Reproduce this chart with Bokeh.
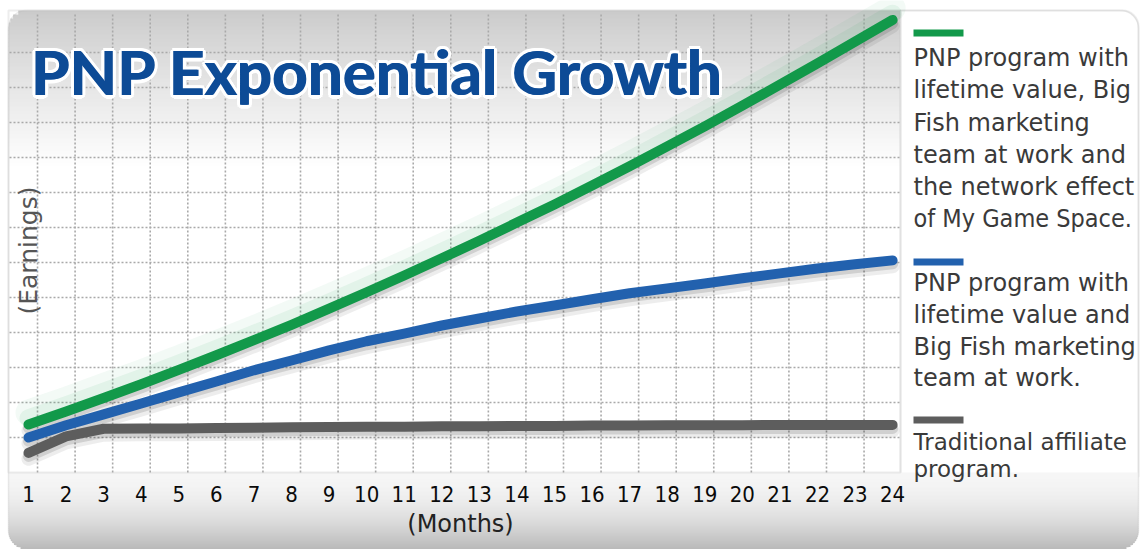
import numpy as np
from bokeh.plotting import figure
from bokeh.models import Label, BoxAnnotation, Range1d
from bokeh.core.properties import value
from bokeh.embed import file_html
from bokeh.resources import INLINE

# ---------------- data ----------------
months = list(range(1, 25))
month_labels = [str(m) for m in months]

# PNP program with lifetime value, Big Fish marketing and network effect (green)
pnp_network = [1.37, 1.74, 2.13, 2.52, 2.93, 3.35, 3.78, 4.22, 4.68, 5.15, 5.63, 6.12,
               6.62, 7.14, 7.66, 8.20, 8.75, 9.32, 9.89, 10.48, 11.08, 11.69, 12.31, 12.93]
# PNP program with lifetime value and Big Fish marketing (blue)
pnp_bigfish = [1.00, 1.35, 1.66, 1.97, 2.29, 2.60, 2.92, 3.20, 3.49, 3.75, 3.97, 4.20,
               4.40, 4.60, 4.77, 4.95, 5.12, 5.26, 5.40, 5.55, 5.69, 5.83, 5.95, 6.06]
# Traditional affiliate program (grey)
traditional = [0.56, 1.03, 1.25, 1.26, 1.26, 1.27, 1.28, 1.29, 1.30, 1.31, 1.31, 1.32,
               1.32, 1.33, 1.33, 1.34, 1.34, 1.35, 1.35, 1.35, 1.36, 1.36, 1.36, 1.36]

earnings_grid = list(range(1, 13))

title_text = "PNP Exponential Growth"
x_title = "(Months)"
y_title = "(Earnings)"
legend_green = ["PNP program with", "lifetime value, Big", "Fish marketing",
                "team at work and", "the network effect", "of My Game Space."]
legend_blue = ["PNP program with", "lifetime value and", "Big Fish marketing",
               "team at work."]
legend_gray = ["Traditional affiliate", "program."]

# ---------------- style ----------------
GREEN = "#12994a"
BLUE = "#2261ae"
GRAY = "#5d5d5d"
TITLE_BLUE = "#0d4b96"
TEXT = "#3a3a3a"

W, H = 1140, 549
PX_PER_MONTH = 37.57
PX_PER_UNIT = 35.0
BASE_SHIFT = 0.39   # rendered alphabetic baseline sits ~0.39em below the anchor


def X(px):
    """canvas x pixel -> month coordinate"""
    return 1 + (px - 28) / PX_PER_MONTH


def Y(py):
    """canvas y pixel (from top) -> earnings coordinate"""
    return (472 - py) / PX_PER_UNIT


def YB(baseline_px, size):
    """anchor for a wanted alphabetic baseline"""
    return Y(baseline_px - BASE_SHIFT * size)


p = figure(width=W, height=H, output_backend="svg", toolbar_location=None,
           x_range=Range1d(X(0), X(W)), y_range=Range1d(Y(H), Y(0)),
           x_axis_location=None, y_axis_location=None,
           min_border=0, background_fill_color="white", border_fill_color="white",
           outline_line_color=None)
p.xgrid.visible = False
p.ygrid.visible = False

has_radius = "border_radius" in BoxAnnotation.properties()


def box(l, r, t, b, fill, line=None, lw=1, radius=None, level="underlay"):
    kw = {}
    if radius is not None and has_radius:
        kw["border_radius"] = radius
    p.add_layout(BoxAnnotation(left=X(l), right=X(r), top=Y(t), bottom=Y(b),
                               fill_color=fill, fill_alpha=1.0 if fill else 0.0,
                               line_color=line, line_width=lw, level=level, **kw))


R = 18


def corner_inset(d):
    return R - np.sqrt(max(R * R - (R - d) ** 2, 0)) if d < R else 0.0


# plot area (white) and top grey gradient
box(8, 900, 10, 472, "white")
n_top = 40
for i in range(n_top):
    y0 = 10 + i * 4
    t = i / (n_top - 1)
    c = int(round(203 + (255 - 203) * t ** 0.9))
    box(8 + corner_inset(y0 + 2 - 10), 900, y0, y0 + 4.5, (c, c, c))

# right legend panel
box(900, 1138, 10, 476, "white", line="#c6c6c6", lw=2, radius=(0, 16, 0, 0))

# bottom strip gradient
n_bot = 39
for i in range(n_bot):
    y0 = 472 + i * 2
    t = i / (n_bot - 1)
    c = int(round(246 - 62 * t ** 1.8))
    ins = corner_inset(548 - (y0 + 1))
    box(8 + ins, 1138 - ins, y0, y0 + 2.4, (c, c, c))

# outlines
box(8, 900, 10, 472, None, line="#c4c4c4", lw=2)
box(8, 1138, 10, 548, None, line="#bdbdbd", lw=1.5, radius=R)

# grid (dotted), limited to the plot area
gx = [m + 0.24 for m in months[:-1]]
p.multi_line(xs=[[g, g] for g in gx], ys=[[Y(472), Y(12)]] * len(gx),
             line_color="#a9a9a9", line_dash="2 2", line_width=1.6)
p.multi_line(xs=[[X(9), X(899)]] * len(earnings_grid), ys=[[v, v] for v in earnings_grid],
             line_color="#a9a9a9", line_dash="2 2", line_width=1.6)

# ---------------- lines ----------------
g_arr = np.array(pnp_network)
b_arr = np.array(pnp_bigfish)
t_arr = np.array(traditional)

p.line(months, g_arr + 0.34, line_width=26, color=GREEN, alpha=0.05, line_cap="round", line_join="round")
p.line(months, g_arr + 0.18, line_width=18, color=GREEN, alpha=0.07, line_cap="round", line_join="round")
for arr in (g_arr, b_arr, t_arr):
    p.line(months, arr - 0.17, line_width=14, color="black", alpha=0.07, line_cap="round", line_join="round")
    p.line(months, arr - 0.10, line_width=11, color="black", alpha=0.12, line_cap="round", line_join="round")

p.line(months, t_arr, line_width=10, color=GRAY, line_cap="round", line_join="round")
p.line(months, b_arr, line_width=10, color=BLUE, line_cap="round", line_join="round")
p.line(months, g_arr, line_width=10, color=GREEN, line_cap="round", line_join="round")

# month tick labels, placed through the x scale
p.text(x=months, y=YB(502, 22), text=month_labels, text_font=value("DejaVu Sans Condensed"),
       text_font_size="22px", text_color="#0a0a0a", text_align="center",
       text_baseline="alphabetic")

# ---------------- texts ----------------
TITLE_FONT = "Lato"
TITLE_SIZE = 62
ty = YB(95, TITLE_SIZE)
for k in range(12):
    a = 2 * np.pi * k / 12
    p.add_layout(Label(x=X(30), y=ty, text=title_text, text_font=TITLE_FONT,
                       text_font_style="bold", text_font_size=f"{TITLE_SIZE}px",
                       text_color="white", x_offset=0.6 + 3.6 * np.cos(a),
                       y_offset=3.6 * np.sin(a), text_baseline="alphabetic"))
for dx in (0.0, 1.2):
    p.add_layout(Label(x=X(30), y=ty, text=title_text, text_font=TITLE_FONT,
                       text_font_style="bold", text_font_size=f"{TITLE_SIZE}px",
                       text_color=TITLE_BLUE, x_offset=dx, text_baseline="alphabetic"))

p.add_layout(Label(x=X(460), y=YB(533, 24), text=x_title, text_font="DejaVu Sans",
                   text_font_size="24px", text_color="#222222", text_align="center",
                   text_baseline="alphabetic"))
p.add_layout(Label(x=X(28), y=Y(250), text=y_title, text_font="DejaVu Sans",
                   text_font_size="25px", text_color="#555555", text_align="center",
                   text_baseline="middle", angle=np.pi / 2))

# legend bars
for color, top in ((GREEN, 29), (BLUE, 258), (GRAY, 416)):
    box(913, 963, top, top + 7, color, level="annotation")


def add_lines(lines, baselines, size=24):
    for txt, b in zip(lines, baselines):
        font, s = ("DejaVu Sans Condensed", 25) if "My Game" in txt else ("DejaVu Sans", size)
        p.add_layout(Label(x=X(913), y=YB(b, s), text=txt, text_font=font,
                           text_font_size=f"{s}px", text_color=TEXT,
                           text_baseline="alphabetic"))


add_lines(legend_green, [67, 99, 131.5, 164, 196, 228])
add_lines(legend_blue, [292, 324, 356, 387])
add_lines(legend_gray, [450, 477], size=23)

open("out.html", "w").write(file_html(p, INLINE))
